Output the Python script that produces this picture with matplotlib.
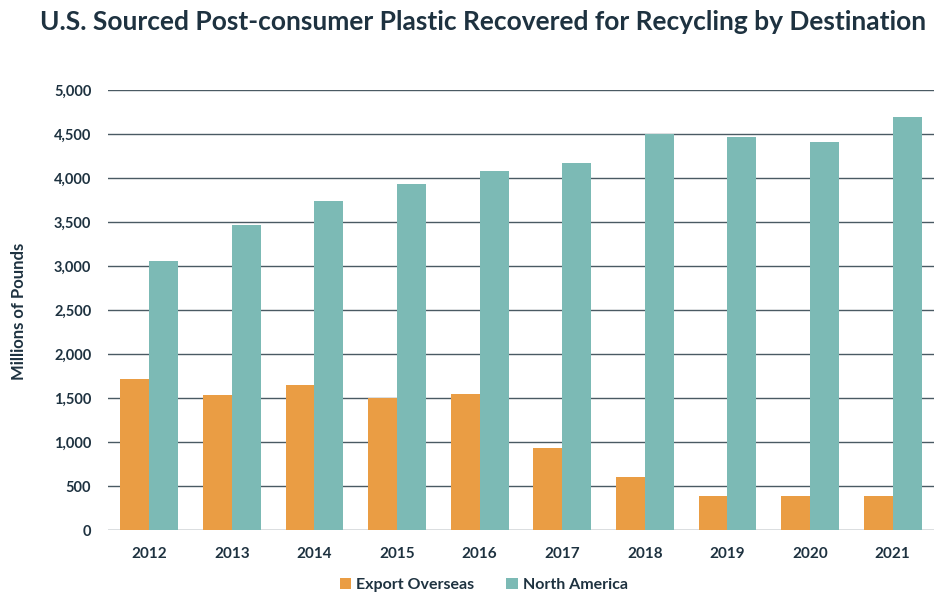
import matplotlib
matplotlib.use("Agg")
import matplotlib.pyplot as plt
import numpy as np

plt.rcParams['font.family'] = ['Lato', 'DejaVu Sans']

years = ["2012", "2013", "2014", "2015", "2016", "2017", "2018", "2019", "2020", "2021"]
export_overseas = [1720, 1530, 1650, 1500, 1550, 935, 605, 385, 385, 385]
north_america = [3055, 3465, 3740, 3930, 4080, 4170, 4500, 4465, 4410, 4695]

orange = "#EA9D44"
teal = "#7CBAB5"
text_col = "#1E3240"

fig = plt.figure(figsize=(9.34, 5.95), dpi=100)
ax = fig.add_axes([0.1156, 0.1092, 0.8844, 0.7395])

x = np.arange(len(years))
w = 0.35
ax.bar(x - w/2, export_overseas, w, color=orange, label="Export Overseas", zorder=3)
ax.bar(x + w/2, north_america, w, color=teal, label="North America", zorder=3)

ax.set_xlim(-0.5, len(years) - 0.5)
ax.set_ylim(0, 5000)
ax.set_yticks(np.arange(0, 5001, 500))
ax.set_yticklabels([f"{v:,}" for v in range(0, 5001, 500)])
ax.set_xticks(x)
ax.set_xticklabels(years)
ax.yaxis.grid(True, color="#4A5A63", linewidth=1.0, zorder=0)
ax.set_axisbelow(True)
for s in ax.spines.values():
    s.set_visible(False)
ax.tick_params(axis="both", length=0, labelsize=10.5, colors=text_col, pad=12)
ax.tick_params(axis="x", labelsize=11, pad=12)
for lbl in ax.get_xticklabels() + ax.get_yticklabels():
    lbl.set_fontweight("bold")

fig.text(0.02, 0.477, "Millions of Pounds", rotation=90, ha="center", va="center",
         fontsize=12, fontweight="bold", color=text_col)
fig.text(0.517, 0.963, "U.S. Sourced Post-consumer Plastic Recovered for Recycling by Destination",
         ha="center", va="center", fontsize=19, fontweight="bold", color=text_col)

fig.legend(loc="center", bbox_to_anchor=(0.518, 0.017), ncol=2, frameon=False,
           handlelength=0.75, handleheight=0.75, handletextpad=0.3,
           columnspacing=2.0, labelcolor=text_col,
           prop={"weight": "bold", "size": 11.5})

fig.savefig("out.png", dpi=100)
